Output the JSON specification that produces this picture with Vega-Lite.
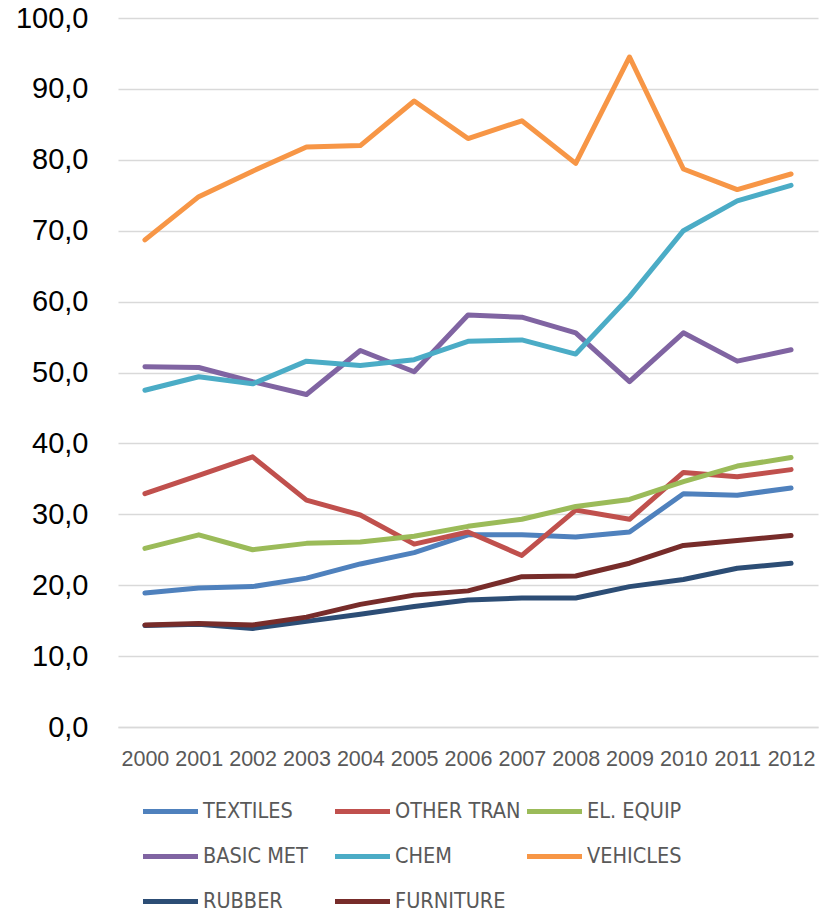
{
  "$schema": "https://vega.github.io/schema/vega-lite/v6.json",
  "width": 700,
  "height": 709,
  "autosize": "none",
  "padding": {"left": 118, "top": 18, "right": 8, "bottom": 185},
  "background": "white",
  "data": {"values": [
    {"year":"2000","sector":"TEXTILES","value":18.9},{"year":"2001","sector":"TEXTILES","value":19.6},{"year":"2002","sector":"TEXTILES","value":19.8},{"year":"2003","sector":"TEXTILES","value":21.0},{"year":"2004","sector":"TEXTILES","value":23.0},{"year":"2005","sector":"TEXTILES","value":24.6},{"year":"2006","sector":"TEXTILES","value":27.1},{"year":"2007","sector":"TEXTILES","value":27.1},{"year":"2008","sector":"TEXTILES","value":26.8},{"year":"2009","sector":"TEXTILES","value":27.5},{"year":"2010","sector":"TEXTILES","value":32.9},{"year":"2011","sector":"TEXTILES","value":32.7},{"year":"2012","sector":"TEXTILES","value":33.7},
    {"year":"2000","sector":"OTHER TRAN","value":32.9},{"year":"2001","sector":"OTHER TRAN","value":35.5},{"year":"2002","sector":"OTHER TRAN","value":38.1},{"year":"2003","sector":"OTHER TRAN","value":32.0},{"year":"2004","sector":"OTHER TRAN","value":29.9},{"year":"2005","sector":"OTHER TRAN","value":25.8},{"year":"2006","sector":"OTHER TRAN","value":27.5},{"year":"2007","sector":"OTHER TRAN","value":24.2},{"year":"2008","sector":"OTHER TRAN","value":30.6},{"year":"2009","sector":"OTHER TRAN","value":29.3},{"year":"2010","sector":"OTHER TRAN","value":35.9},{"year":"2011","sector":"OTHER TRAN","value":35.3},{"year":"2012","sector":"OTHER TRAN","value":36.3},
    {"year":"2000","sector":"EL. EQUIP","value":25.2},{"year":"2001","sector":"EL. EQUIP","value":27.1},{"year":"2002","sector":"EL. EQUIP","value":25.0},{"year":"2003","sector":"EL. EQUIP","value":25.9},{"year":"2004","sector":"EL. EQUIP","value":26.1},{"year":"2005","sector":"EL. EQUIP","value":26.9},{"year":"2006","sector":"EL. EQUIP","value":28.3},{"year":"2007","sector":"EL. EQUIP","value":29.3},{"year":"2008","sector":"EL. EQUIP","value":31.1},{"year":"2009","sector":"EL. EQUIP","value":32.1},{"year":"2010","sector":"EL. EQUIP","value":34.6},{"year":"2011","sector":"EL. EQUIP","value":36.8},{"year":"2012","sector":"EL. EQUIP","value":38.0},
    {"year":"2000","sector":"BASIC MET","value":50.8},{"year":"2001","sector":"BASIC MET","value":50.7},{"year":"2002","sector":"BASIC MET","value":48.7},{"year":"2003","sector":"BASIC MET","value":46.9},{"year":"2004","sector":"BASIC MET","value":53.1},{"year":"2005","sector":"BASIC MET","value":50.1},{"year":"2006","sector":"BASIC MET","value":58.1},{"year":"2007","sector":"BASIC MET","value":57.8},{"year":"2008","sector":"BASIC MET","value":55.6},{"year":"2009","sector":"BASIC MET","value":48.7},{"year":"2010","sector":"BASIC MET","value":55.6},{"year":"2011","sector":"BASIC MET","value":51.6},{"year":"2012","sector":"BASIC MET","value":53.2},
    {"year":"2000","sector":"CHEM","value":47.5},{"year":"2001","sector":"CHEM","value":49.4},{"year":"2002","sector":"CHEM","value":48.4},{"year":"2003","sector":"CHEM","value":51.6},{"year":"2004","sector":"CHEM","value":51.0},{"year":"2005","sector":"CHEM","value":51.8},{"year":"2006","sector":"CHEM","value":54.4},{"year":"2007","sector":"CHEM","value":54.6},{"year":"2008","sector":"CHEM","value":52.6},{"year":"2009","sector":"CHEM","value":60.7},{"year":"2010","sector":"CHEM","value":70.0},{"year":"2011","sector":"CHEM","value":74.2},{"year":"2012","sector":"CHEM","value":76.4},
    {"year":"2000","sector":"VEHICLES","value":68.7},{"year":"2001","sector":"VEHICLES","value":74.8},{"year":"2002","sector":"VEHICLES","value":78.4},{"year":"2003","sector":"VEHICLES","value":81.8},{"year":"2004","sector":"VEHICLES","value":82.0},{"year":"2005","sector":"VEHICLES","value":88.3},{"year":"2006","sector":"VEHICLES","value":83.0},{"year":"2007","sector":"VEHICLES","value":85.5},{"year":"2008","sector":"VEHICLES","value":79.5},{"year":"2009","sector":"VEHICLES","value":94.5},{"year":"2010","sector":"VEHICLES","value":78.7},{"year":"2011","sector":"VEHICLES","value":75.8},{"year":"2012","sector":"VEHICLES","value":78.0},
    {"year":"2000","sector":"RUBBER","value":14.3},{"year":"2001","sector":"RUBBER","value":14.5},{"year":"2002","sector":"RUBBER","value":13.9},{"year":"2003","sector":"RUBBER","value":14.9},{"year":"2004","sector":"RUBBER","value":15.9},{"year":"2005","sector":"RUBBER","value":17.0},{"year":"2006","sector":"RUBBER","value":17.9},{"year":"2007","sector":"RUBBER","value":18.2},{"year":"2008","sector":"RUBBER","value":18.2},{"year":"2009","sector":"RUBBER","value":19.8},{"year":"2010","sector":"RUBBER","value":20.8},{"year":"2011","sector":"RUBBER","value":22.4},{"year":"2012","sector":"RUBBER","value":23.1},
    {"year":"2000","sector":"FURNITURE","value":14.4},{"year":"2001","sector":"FURNITURE","value":14.6},{"year":"2002","sector":"FURNITURE","value":14.4},{"year":"2003","sector":"FURNITURE","value":15.5},{"year":"2004","sector":"FURNITURE","value":17.3},{"year":"2005","sector":"FURNITURE","value":18.6},{"year":"2006","sector":"FURNITURE","value":19.2},{"year":"2007","sector":"FURNITURE","value":21.2},{"year":"2008","sector":"FURNITURE","value":21.3},{"year":"2009","sector":"FURNITURE","value":23.1},{"year":"2010","sector":"FURNITURE","value":25.6},{"year":"2011","sector":"FURNITURE","value":26.3},{"year":"2012","sector":"FURNITURE","value":27.0}
  ]},
  "mark": {"type": "line", "strokeWidth": 5, "strokeCap": "round", "strokeJoin": "round"},
  "encoding": {
    "x": {
      "field": "year", "type": "ordinal",
      "scale": {"padding": 0.5},
      "axis": {"title": null, "labelAngle": 0, "labelFont": "Liberation Sans", "labelFontSize": 21.5, "labelColor": "#595959", "labelPadding": 21, "ticks": false, "domain": true, "domainColor": "#d9d9d9", "domainWidth": 1.5, "grid": false}
    },
    "y": {
      "field": "value", "type": "quantitative",
      "scale": {"domain": [0, 100], "nice": false},
      "axis": {"title": null, "values": [0,10,20,30,40,50,60,70,80,90,100], "labelExpr": "replace(format(datum.value, '.1f'), '.', ',')", "labelFontSize": 29, "labelColor": "#000000", "labelPadding": 30, "ticks": false, "domain": false, "grid": true, "gridColor": "#d9d9d9", "gridWidth": 1.5}
    },
    "color": {
      "field": "sector", "type": "nominal", "sort": null,
      "scale": {
        "domain": ["TEXTILES","OTHER TRAN","EL. EQUIP","BASIC MET","CHEM","VEHICLES","RUBBER","FURNITURE"],
        "range": ["#4F81BD","#C0504D","#9BBB59","#8064A2","#4BACC6","#F79646","#2C4D75","#772C2A"]
      },
      "legend": {
        "title": null, "orient": "none", "legendX": 30, "legendY": 771, "direction": "horizontal",
        "columns": 3, "gridAlign": "all", "columnPadding": -4, "rowPadding": 12, "padding": 0,
        "symbolType": "M-1.375,0H1.375", "symbolSize": 1600, "symbolStrokeWidth": 5,
        "labelFont": "Liberation Sans Narrow, DejaVu Sans Condensed, Liberation Sans",
        "labelFontSize": 21.5, "labelColor": "#595959", "labelOffset": 10, "labelLimit": 300
      }
    }
  },
  "config": {
    "font": "Liberation Sans",
    "view": {"stroke": null}
  }
}
